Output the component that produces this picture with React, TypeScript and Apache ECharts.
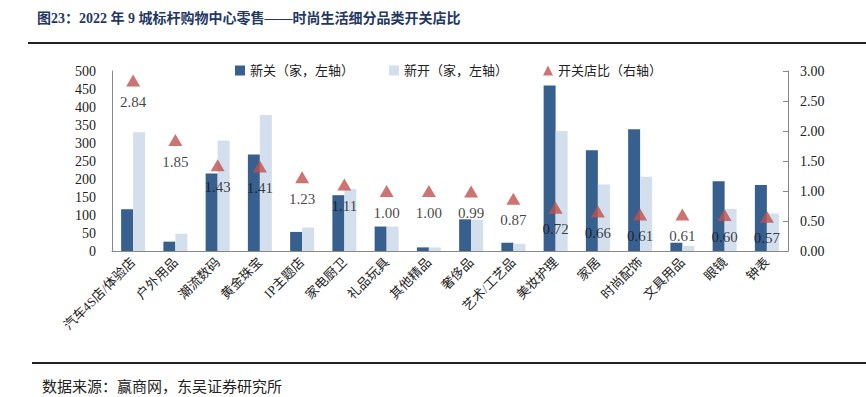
import React, { useEffect, useRef } from "react";
import * as echarts from "echarts";

const categories = [
  "汽车4S店/体验店", "户外用品", "潮流数码", "黄金珠宝", "IP主题店", "家电厨卫", "礼品玩具", "其他精品",
  "奢侈品", "艺术/工艺品", "美妆护理", "家居", "时尚配饰", "文具用品", "眼镜", "钟表",
];
const closed = [116, 26, 215, 268, 53, 155, 68, 10, 88, 23, 460, 280, 338, 23, 194, 183];
const opened = [330, 48, 307, 378, 65, 172, 68, 10, 87, 20, 333, 185, 206, 14, 117, 104];
const ratio = [2.84, 1.85, 1.43, 1.41, 1.23, 1.11, 1.0, 1.0, 0.99, 0.87, 0.72, 0.66, 0.61, 0.61, 0.6, 0.57];
const leftTicks = { min: 0, max: 500, interval: 50 };
const rightTicks = { min: 0, max: 3, interval: 0.5 };

const SERIF = "'Liberation Serif', 'Noto Sans CJK SC', serif";

export default function App() {
  const ref = useRef<HTMLDivElement>(null);
  useEffect(() => {
    const chart = echarts.init(ref.current!, undefined, { renderer: "svg" });
    chart.setOption({
      animation: false,
      backgroundColor: "#ffffff",
      textStyle: { fontFamily: SERIF },
      graphic: [
        {
          type: "text",
          left: 37,
          top: 11,
          style: {
            text: "图23：2022 年 9 城标杆购物中心零售——时尚生活细分品类开关店比",
            font: "bold 14px " + SERIF,
            fill: "#1f3864",
          },
        },
        { type: "rect", shape: { x: 28, y: 42, width: 838, height: 2 }, style: { fill: "#222" } },
        { type: "rect", shape: { x: 32, y: 362, width: 834, height: 2 }, style: { fill: "#222" } },
        {
          type: "text",
          left: 42,
          top: 379,
          style: { text: "数据来源：赢商网，东吴证券研究所", font: "15px " + SERIF, fill: "#222" },
        },
      ],
      legend: {
        top: 59,
        left: 230,
        itemGap: 35,
        itemWidth: 10,
        itemHeight: 10,
        textStyle: { fontSize: 13, color: "#222", fontFamily: SERIF },
        data: [
          { name: "新关（家，左轴）", icon: "rect" },
          { name: "新开（家，左轴）", icon: "rect" },
          { name: "开关店比（右轴）", icon: "triangle" },
        ],
      },
      grid: { left: 112, right: 78, top: 71, bottom: 146 },
      xAxis: {
        type: "category",
        data: categories,
        axisLine: { lineStyle: { color: "#888" } },
        axisTick: { inside: true, length: 5, lineStyle: { color: "#888" } },
        axisLabel: {
          rotate: 45,
          interval: 0,
          margin: 9,
          fontSize: 13,
          color: "#222",
          fontFamily: SERIF,
        },
      },
      yAxis: [
        {
          type: "value",
          ...leftTicks,
          splitLine: { show: false },
          axisLine: { show: true, lineStyle: { color: "#888" } },
          axisTick: { show: false },
          axisLabel: { fontSize: 14, color: "#222", margin: 16, fontFamily: SERIF },
        },
        {
          type: "value",
          ...rightTicks,
          splitLine: { show: false },
          axisLine: { show: true, lineStyle: { color: "#888" } },
          axisTick: { show: true, inside: true, length: 5, lineStyle: { color: "#888" } },
          axisLabel: {
            fontSize: 14,
            color: "#222",
            margin: 12,
            fontFamily: SERIF,
            formatter: (v: number) => v.toFixed(2),
          },
        },
      ],
      series: [
        {
          name: "新关（家，左轴）",
          type: "bar",
          data: closed,
          barWidth: 12,
          barGap: "0%",
          itemStyle: { color: "#38608f" },
        },
        {
          name: "新开（家，左轴）",
          type: "bar",
          data: opened,
          barWidth: 12,
          barGap: "0%",
          itemStyle: { color: "#d3dfed" },
        },
        {
          name: "开关店比（右轴）",
          type: "scatter",
          yAxisIndex: 1,
          data: ratio,
          symbol: "triangle",
          symbolSize: [14, 12],
          itemStyle: { color: "#c0504d" },
          label: {
            show: true,
            position: "bottom",
            distance: 8,
            fontSize: 15,
            color: "#111",
            fontFamily: SERIF,
            formatter: (p: any) => Number(p.value).toFixed(2),
          },
        },
      ],
    });
    return () => chart.dispose();
  }, []);
  return (
    <div
      ref={ref}
      style={{ position: "fixed", left: 0, top: 0, width: 866, height: 397, background: "#fff" }}
    />
  );
}
